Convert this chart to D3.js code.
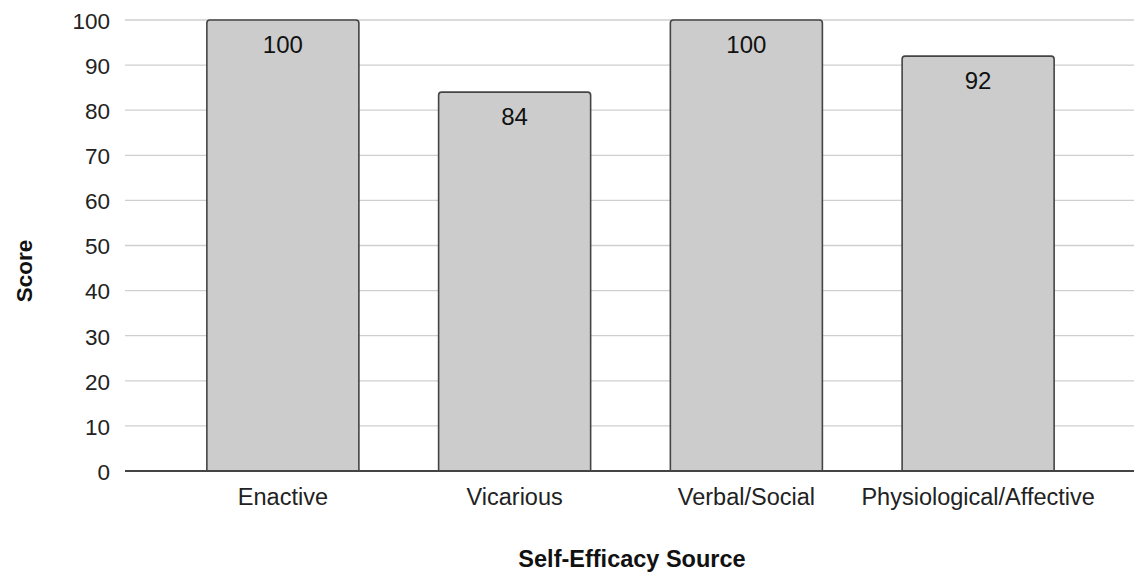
<!DOCTYPE html>
<html><head><meta charset="utf-8">
<script src="https://cdn.jsdelivr.net/npm/d3@7"></script>
<style>body{margin:0;background:#fff}svg{display:block}text{font-family:"Liberation Sans",Arial,sans-serif}</style>
</head><body>
<svg id="c" width="1138" height="573"></svg>
<script>
const categories = ["Enactive", "Vicarious", "Verbal/Social", "Physiological/Affective"];
const scores = [100, 84, 100, 92];
const yTicks = [0, 10, 20, 30, 40, 50, 60, 70, 80, 90, 100];

const svg = d3.select("#c");
const plotL = 125, plotR = 1134, plotT = 20, plotB = 471;
const x = d3.scaleBand().domain(categories).range([167, 1094]).paddingInner(0.344).paddingOuter(0.172);
const y = d3.scaleLinear().domain([0, 100]).range([plotB, plotT]);

// gridlines
svg.append("g").selectAll("line").data(yTicks.filter(d => d > 0)).join("line")
  .attr("x1", plotL).attr("x2", plotR)
  .attr("y1", d => y(d)).attr("y2", d => y(d))
  .attr("stroke", "#cfcfcf").attr("stroke-width", 1.3);

// y axis labels
const yAxis = d3.axisLeft(y).tickValues(yTicks).tickSize(0).tickPadding(0);
const ga = svg.append("g").attr("transform", `translate(${plotL - 15},0)`).call(yAxis);
ga.select(".domain").remove();
ga.selectAll("text").attr("font-size", 22.5).attr("dy", "0.37em").attr("fill", "#222").style("font-family", '"Liberation Sans",Arial,sans-serif');

// bars with rounded top
const r = 3;
svg.append("g").selectAll("path").data(categories).join("path")
  .attr("d", (c, i) => {
    const x0 = x(c), x1 = x(c) + x.bandwidth(), y0 = y(scores[i]), yb = y(0);
    return `M${x0},${yb}V${y0 + r}Q${x0},${y0} ${x0 + r},${y0}H${x1 - r}Q${x1},${y0} ${x1},${y0 + r}V${yb}`;
  })
  .attr("fill", "#cccccc").attr("stroke", "#444").attr("stroke-width", 1.6);

// value labels
svg.append("g").selectAll("text").data(categories).join("text")
  .attr("x", c => x(c) + x.bandwidth() / 2)
  .attr("y", (c, i) => y(scores[i]) + 32.5)
  .attr("text-anchor", "middle").attr("font-size", 24).attr("fill", "#111")
  .text((c, i) => scores[i]);

// baseline
svg.append("line").attr("x1", plotL).attr("x2", plotR).attr("y1", plotB).attr("y2", plotB)
  .attr("stroke", "#444").attr("stroke-width", 1.8);

// x axis labels
const xAxis = d3.axisBottom(x).tickSize(0).tickPadding(0);
const gx = svg.append("g").attr("transform", `translate(0,${plotB})`).call(xAxis);
gx.select(".domain").remove();
gx.selectAll("text").attr("dy", 0).attr("y", 34).attr("font-size", 23.5).attr("fill", "#222").style("font-family", '"Liberation Sans",Arial,sans-serif');

// axis titles
svg.append("text").attr("x", 632).attr("y", 567).attr("text-anchor", "middle")
  .attr("font-size", 23.5).attr("font-weight", "bold").attr("fill", "#111").text("Self-Efficacy Source");
svg.append("text").attr("transform", "translate(31.5,271) rotate(-90)").attr("text-anchor", "middle")
  .attr("font-size", 22.5).attr("font-weight", "bold").attr("fill", "#111").text("Score");
</script>
</body></html>
